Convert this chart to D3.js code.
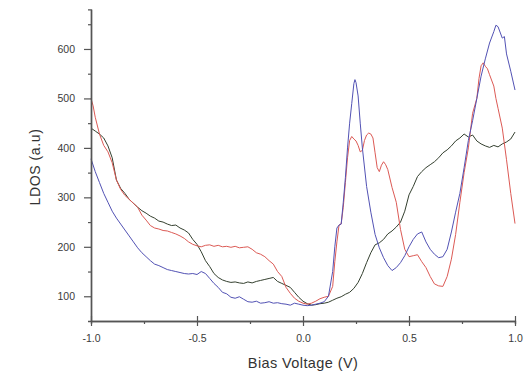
<!DOCTYPE html>
<html>
<head>
<meta charset="utf-8">
<script src="https://cdn.jsdelivr.net/npm/d3@7"></script>
<style>
  body { margin: 0; background: #fff; }
  text { font-family: "Liberation Sans", Arial, sans-serif; }
</style>
</head>
<body>
<div id="chart"></div>
<script>
// datos:
const biasBlack = [-1.00,-0.98,-0.96,-0.94,-0.92,-0.90,-0.88,-0.86,-0.84,-0.82,-0.80,-0.78,-0.76,-0.74,-0.72,-0.70,-0.68,-0.66,-0.64,-0.62,-0.60,-0.58,-0.56,-0.54,-0.52,-0.50,-0.48,-0.46,-0.44,-0.42,-0.40,-0.38,-0.36,-0.34,-0.32,-0.30,-0.28,-0.26,-0.24,-0.22,-0.20,-0.18,-0.16,-0.14,-0.12,-0.10,-0.08,-0.06,-0.04,-0.02,0.00,0.02,0.04,0.06,0.08,0.10,0.12,0.14,0.16,0.18,0.20,0.22,0.24,0.26,0.28,0.30,0.32,0.34,0.36,0.38,0.40,0.42,0.44,0.46,0.48,0.50,0.52,0.54,0.56,0.58,0.60,0.62,0.64,0.66,0.68,0.70,0.72,0.74,0.76,0.78,0.80,0.82,0.84,0.86,0.88,0.90,0.92,0.94,0.96,0.98,1.00]
const ldosBlack = [440,434,428,420,404,380,335,318,308,296,288,280,273,268,262,258,252,250,246,243,244,238,234,228,215,205,190,172,160,146,138,133,130,128,129,127,126,129,127,130,132,134,136,138,130,126,122,118,108,98,90,85,82,83,85,86,88,92,96,99,104,108,116,128,146,168,188,204,208,215,226,232,240,250,272,305,322,342,352,360,366,372,380,390,396,404,414,420,428,422,426,414,408,404,401,405,402,408,412,418,432]

const biasRed = [-1.00,-0.99,-0.98,-0.96,-0.94,-0.92,-0.90,-0.88,-0.86,-0.84,-0.82,-0.80,-0.78,-0.76,-0.74,-0.72,-0.70,-0.68,-0.66,-0.64,-0.62,-0.60,-0.58,-0.56,-0.54,-0.52,-0.50,-0.48,-0.46,-0.44,-0.42,-0.40,-0.38,-0.36,-0.34,-0.32,-0.30,-0.28,-0.26,-0.24,-0.22,-0.20,-0.18,-0.16,-0.14,-0.12,-0.10,-0.08,-0.06,-0.04,-0.02,0.00,0.02,0.04,0.06,0.08,0.10,0.12,0.14,0.15,0.16,0.17,0.18,0.19,0.20,0.21,0.22,0.23,0.24,0.25,0.26,0.27,0.28,0.29,0.30,0.31,0.32,0.33,0.34,0.35,0.36,0.37,0.38,0.39,0.40,0.42,0.44,0.46,0.48,0.50,0.52,0.54,0.56,0.58,0.60,0.62,0.64,0.66,0.68,0.70,0.72,0.74,0.76,0.78,0.80,0.82,0.83,0.84,0.85,0.86,0.87,0.88,0.90,0.91,0.92,0.94,0.96,0.98,1.00]
const ldosRed = [500,485,462,428,405,392,370,335,316,304,296,288,280,264,254,243,238,236,233,232,229,226,222,217,210,205,202,200,203,204,201,203,200,201,199,201,198,199,200,195,188,185,180,172,165,150,140,118,106,96,90,86,84,86,90,95,98,100,120,170,210,244,246,280,330,380,415,423,418,414,405,392,395,415,426,430,428,420,390,360,352,365,372,366,356,320,290,235,195,180,182,184,170,158,140,125,121,120,140,175,225,290,350,400,470,500,540,566,572,565,560,548,525,500,480,440,376,308,247]

const biasBlue = [-1.00,-0.98,-0.96,-0.94,-0.92,-0.90,-0.88,-0.86,-0.84,-0.82,-0.80,-0.78,-0.76,-0.74,-0.72,-0.70,-0.68,-0.66,-0.64,-0.62,-0.60,-0.58,-0.56,-0.54,-0.52,-0.50,-0.48,-0.46,-0.44,-0.42,-0.40,-0.38,-0.36,-0.34,-0.32,-0.30,-0.28,-0.26,-0.24,-0.22,-0.20,-0.18,-0.16,-0.14,-0.12,-0.10,-0.08,-0.06,-0.04,-0.02,0.00,0.02,0.04,0.06,0.08,0.10,0.12,0.14,0.15,0.16,0.17,0.18,0.19,0.20,0.21,0.22,0.23,0.24,0.245,0.25,0.26,0.27,0.28,0.30,0.32,0.34,0.36,0.38,0.40,0.42,0.44,0.46,0.48,0.50,0.52,0.54,0.56,0.58,0.60,0.62,0.64,0.66,0.68,0.70,0.72,0.74,0.76,0.78,0.80,0.82,0.84,0.86,0.88,0.90,0.91,0.92,0.94,0.95,0.96,0.98,1.00]
const ldosBlue = [378,352,330,308,290,272,258,246,234,222,210,198,188,180,172,165,162,158,154,152,150,148,146,145,146,144,150,146,136,126,118,108,105,98,96,99,94,89,88,90,86,87,89,86,87,85,84,82,86,84,82,81,82,84,86,89,100,150,200,238,244,246,290,340,400,450,490,530,538,532,505,450,400,322,270,225,198,178,162,152,158,168,182,200,215,226,230,210,195,185,178,180,195,230,270,308,360,415,455,500,545,580,612,635,648,645,622,625,590,555,517]

const xTicks = [-1.0, -0.5, 0.0, 0.5, 1.0]
const yTicks = [100, 200, 300, 400, 500, 600]

// constantes:
const width = 526
const height = 374

const svg = d3.select("#chart").append("svg").attr("width", width).attr("height", height)
const elementGroup = svg.append("g").attr("id", "elementGroup")
const axisGroup = svg.append("g").attr("id", "axisGroup")

// escalas:
const x = d3.scaleLinear().domain([-1, 1]).range([91, 515])
const y = d3.scaleLinear().domain([50, 680]).range([321, 9.4])

// ejes menores:
const xMinor = d3.axisBottom(x).tickValues([-0.75, -0.25, 0.25, 0.75]).tickSize(3).tickFormat("")
const yMinor = d3.axisLeft(y).tickValues([150, 250, 350, 450, 550, 650]).tickSize(3).tickFormat("")
axisGroup.append("g").attr("transform", `translate(0, ${y(50)})`).call(xMinor)
axisGroup.append("g").attr("transform", `translate(${x(-1)}, 0)`).call(yMinor)

// ejes mayores:
const xAxis = d3.axisBottom(x).tickValues(xTicks).tickSize(5).tickPadding(9).tickSizeOuter(0).tickFormat(d => d.toFixed(1))
const yAxis = d3.axisLeft(y).tickValues(yTicks).tickSize(7).tickPadding(9).tickSizeOuter(0)
const xAxisGroup = axisGroup.append("g").attr("transform", `translate(0, ${y(50)})`).call(xAxis)
const yAxisGroup = axisGroup.append("g").attr("transform", `translate(${x(-1)}, 0)`).call(yAxis)

// las marcas mayores del eje x cruzan la linea
xAxisGroup.selectAll(".tick line").attr("y1", -5)

axisGroup.selectAll("path.domain").attr("stroke", "#555").attr("stroke-width", 1.4)
axisGroup.selectAll(".tick line").attr("stroke", "#555").attr("stroke-width", 1.2)
axisGroup.selectAll(".tick text").attr("fill", "#3a3a3a").style("font-size", "10.5px")

// titulos:
svg.append("text").attr("x", 303).attr("y", 368).attr("text-anchor", "middle")
    .attr("fill", "#333").style("font-size", "14.5px").style("letter-spacing", "0.4px").text("Bias Voltage (V)")
svg.append("text").attr("transform", "translate(40, 167) rotate(-90)").attr("text-anchor", "middle")
    .attr("fill", "#333").style("font-size", "14px").style("letter-spacing", "0.6px").text("LDOS (a.u)")

// lineas:
const series = [
    {name: "black", bias: biasBlack, ldos: ldosBlack, color: "#34402f"},
    {name: "red", bias: biasRed, ldos: ldosRed, color: "#dc5a55"},
    {name: "blue", bias: biasBlue, ldos: ldosBlue, color: "#5252b4"}
]
const line = d3.line().x(d => x(d[0])).y(d => y(d[1]))

elementGroup.selectAll("path").data(series)
    .join("path")
        .attr("d", s => line(s.bias.map((b, i) => [b, s.ldos[i]])))
        .attr("fill", "none")
        .attr("stroke", s => s.color)
        .attr("stroke-width", 1)
</script>
</body>
</html>
